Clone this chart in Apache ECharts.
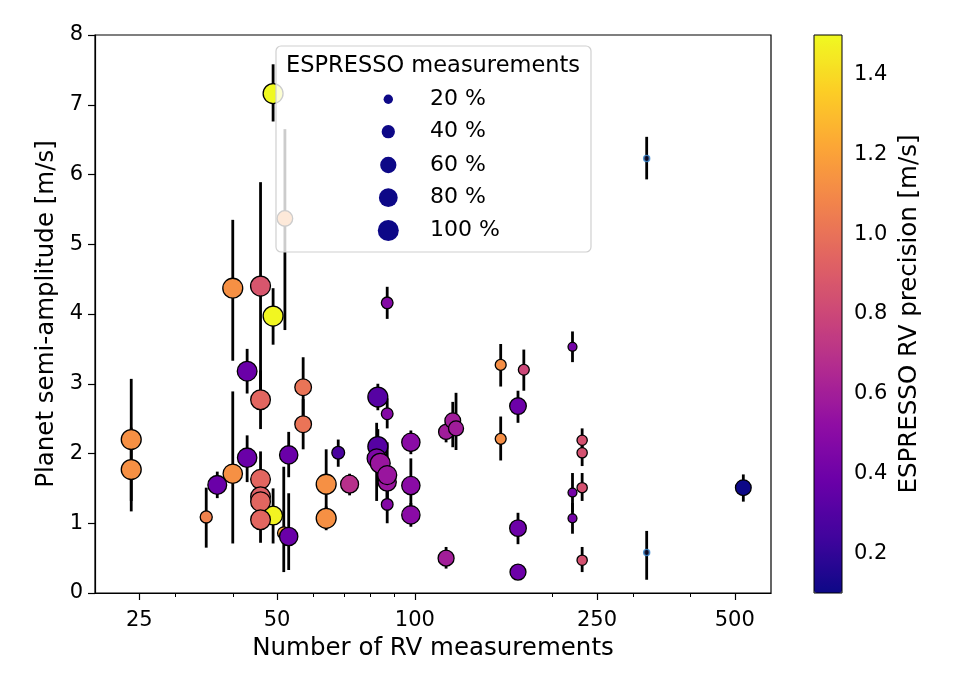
<!DOCTYPE html>
<html><head><meta charset="utf-8">
<script src="https://cdn.jsdelivr.net/npm/echarts@6/dist/echarts.min.js"></script>
<style>html,body{margin:0;padding:0;background:#fff}#c{width:955px;height:679px}</style>
</head><body><div id="c"></div>
<script>
// ---- data ----
const nObs    = [24, 24, 35, 37, 40, 40, 43, 43, 49, 46, 46, 46, 46, 46, 46, 49, 49, 52, 51.7, 53, 53, 57, 57, 64, 64, 68, 72, 83, 87, 87, 83, 82.5, 84, 87, 87, 87, 98, 98, 98, 117, 121, 123, 117, 154, 154, 168, 168, 168, 173, 221, 221, 221, 232, 232, 232, 232, 321, 321, 522];
const semiAmp = [2.20, 1.77, 1.09, 1.55, 4.37, 1.71, 3.18, 1.94, 1.11, 4.40, 2.77, 1.63, 1.38, 1.31, 1.05, 7.16, 3.97, 5.37, 0.86, 0.81, 1.98, 2.95, 2.42, 1.56, 1.07, 2.01, 1.56, 2.81, 4.16, 2.57, 2.10, 1.93, 1.86, 1.59, 1.69, 1.27, 2.16, 1.54, 1.12, 2.31, 2.47, 2.36, 0.50, 3.27, 2.21, 2.68, 0.93, 0.30, 3.20, 3.53, 1.44, 1.07, 2.19, 2.01, 1.51, 0.47, 6.23, 0.58, 1.51];
const errLow  = [1.32, 1.17, 0.65, 1.36, 3.33, 0.71, 2.86, 1.59, 0.71, 2.91, 2.35, 1.23, 1.10, 1.00, 0.72, 6.76, 3.56, 3.77, 0.30, 0.33, 1.66, 2.52, 2.06, 1.06, 0.90, 1.81, 1.40, 2.62, 3.93, 2.36, 1.85, 1.32, 1.60, 1.35, 1.22, 1.00, 1.99, 1.15, 0.95, 2.16, 2.09, 2.05, 0.35, 2.96, 1.90, 2.44, 0.70, 0.22, 2.90, 3.31, 1.16, 0.85, 2.02, 1.82, 1.32, 0.30, 5.93, 0.19, 1.31];
const errHigh = [3.07, 2.37, 1.51, 1.74, 5.35, 2.89, 3.50, 2.26, 1.50, 5.89, 3.19, 2.03, 1.66, 1.62, 1.38, 7.58, 4.37, 6.65, 1.81, 1.43, 2.31, 3.38, 2.78, 2.06, 1.24, 2.20, 1.71, 3.00, 4.39, 2.79, 2.35, 2.44, 2.10, 1.83, 2.16, 1.54, 2.33, 1.93, 1.29, 2.46, 2.74, 2.87, 0.66, 3.57, 2.53, 2.90, 1.15, 0.38, 3.49, 3.75, 1.72, 1.29, 2.36, 2.19, 1.72, 0.66, 6.54, 0.89, 1.70];
const rvPrec  = [1.13, 1.13, 1.07, 0.38, 1.13, 1.13, 0.38, 0.38, 1.48, 0.87, 0.95, 0.95, 0.92, 0.95, 0.95, 1.50, 1.49, 1.13, 1.20, 0.38, 0.38, 1.01, 1.01, 1.13, 1.13, 0.27, 0.69, 0.31, 0.48, 0.48, 0.31, 0.45, 0.56, 0.56, 0.56, 0.48, 0.50, 0.50, 0.50, 0.59, 0.59, 0.59, 0.60, 1.12, 1.12, 0.39, 0.39, 0.39, 0.80, 0.42, 0.42, 0.42, 0.85, 0.85, 0.85, 0.85, 0.10, 0.10, 0.10];
const espPct  = [90, 90, 33, 80, 90, 85, 88, 85, 80, 90, 88, 88, 88, 88, 88, 90, 90, 55, 35, 76, 76, 63, 63, 90, 90, 37, 73, 90, 31, 31, 90, 82, 90, 75, 82, 31, 76, 76, 76, 51, 56, 51, 58, 27, 27, 63, 63, 58, 27, 18, 18, 18, 24, 24, 24, 24, 5, 5, 56];
const xMajorTicks = [25, 50, 100, 250, 500];
const xMinorTicks = [30, 40, 60, 70, 80, 90, 200, 300, 400];
const cbTicks = [0.2, 0.4, 0.6, 0.8, 1.0, 1.2, 1.4];
const legendPct = [20, 40, 60, 80, 100];
const legendNames = ['20 %', '40 %', '60 %', '80 %', '100 %'];
const plasma = ['#0d0887','#41049d','#6a00a8','#8f0da4','#b12a90','#cc4778','#e16462','#f2844b','#fca636','#fcce25','#f0f921'];

// ---- build ----
const FONT = 'DejaVu Sans';
const lg = v => Math.log10(v);
const sizeOf = p => 21 * Math.sqrt(p / 100);
const mainPts = [], tinyPts = [], bars = [];
nObs.forEach((n, i) => {
  const row = [lg(n), semiAmp[i], rvPrec[i], espPct[i]];
  (espPct[i] < 10 ? tinyPts : mainPts).push(row);
  bars.push([lg(n), errLow[i], errHigh[i]]);
});

const chart = echarts.init(document.getElementById('c'), null, {renderer: 'canvas'});
const L = 95, R = 771, T = 35, B = 593;
const xmin = lg(20), xmax = lg(600);
const tickFont = {fontFamily: FONT, fontSize: 21, color: '#000'};
const nameFont = {fontFamily: FONT, fontSize: 24.5, color: '#000'};

const legendRows = [98.3, 130.7, 164, 196.7, 230];
const legends = legendPct.map((p, k) => {
  const d = sizeOf(p);
  return {
    data: [legendNames[k]], left: 388.3 - d / 2, top: legendRows[k] - Math.max(d, 20) / 2,
    padding: 0, itemWidth: 73.4, itemHeight: d, icon: 'circle', selectedMode: false,
    z: 20, itemStyle: {color: '#0d0887', opacity: 1, borderWidth: 0},
    textStyle: {fontFamily: FONT, fontSize: 22, color: '#000'}
  };
});

const series = [
  {
    type: 'custom', xAxisIndex: 0, yAxisIndex: 0, data: bars, z: 2,
    encode: {x: 0, y: [1, 2]}, silent: true,
    renderItem: (params, api) => {
      const p1 = api.coord([api.value(0), api.value(1)]);
      const p2 = api.coord([api.value(0), api.value(2)]);
      return {type: 'line', shape: {x1: p1[0], y1: p1[1], x2: p2[0], y2: p2[1]},
              style: {stroke: '#000', lineWidth: 2.8}};
    }
  },
  {
    type: 'scatter', xAxisIndex: 0, yAxisIndex: 0, data: mainPts, z: 3,
    symbolSize: v => sizeOf(v[3]),
    itemStyle: {borderColor: '#000', borderWidth: 1.3, opacity: 1},
    emphasis: {disabled: true}
  },
  {
    type: 'scatter', xAxisIndex: 0, yAxisIndex: 0, data: tinyPts, z: 3,
    symbolSize: v => sizeOf(v[3]) + 1.5,
    itemStyle: {color: '#0a0a2a', borderColor: '#3d8fd6', borderWidth: 1.3},
    emphasis: {disabled: true}
  }
].concat(legendNames.map(nm => ({
  type: 'scatter', name: nm, data: [], itemStyle: {color: '#0d0887', borderWidth: 0, opacity: 1}
})));

chart.setOption({
  animation: false,
  backgroundColor: '#fff',
  textStyle: {fontFamily: FONT},
  grid: [
    {left: L, top: T, width: R - L, height: B - T, show: true, borderColor: '#000', borderWidth: 1.2, backgroundColor: 'rgba(0,0,0,0)', z: 5},
    {left: 814, top: T, width: 28, height: B - T, show: true, borderColor: '#000', borderWidth: 1, backgroundColor: 'rgba(0,0,0,0)', z: 10}
  ],
  xAxis: [
    {
      type: 'value', gridIndex: 0, min: xmin, max: xmax, position: 'bottom',
      axisLine: {show: true, onZero: false, lineStyle: {color: '#000', width: 1.2}},
      axisTick: {show: true, length: 7, inside: false, customValues: xMajorTicks.map(lg), lineStyle: {color: '#000', width: 1.2}},
      axisLabel: {show: true, margin: 17, customValues: xMajorTicks.map(lg), formatter: v => String(Math.round(Math.pow(10, v))), ...tickFont},
      splitLine: {show: false},
      name: 'Number of RV measurements', nameLocation: 'middle', nameGap: 43,
      nameTextStyle: nameFont
    },
    {
      type: 'value', gridIndex: 0, min: xmin, max: xmax, position: 'bottom',
      axisLine: {show: false},
      axisTick: {show: true, length: 4, customValues: xMinorTicks.map(lg), lineStyle: {color: '#000', width: 1}},
      axisLabel: {show: false}, splitLine: {show: false}
    },
    {type: 'value', gridIndex: 1, show: false, min: 0, max: 1}
  ],
  yAxis: [
    {
      type: 'value', gridIndex: 0, min: 0, max: 8, interval: 1,
      axisLine: {show: true, onZero: false, lineStyle: {color: '#000', width: 1.2}},
      axisTick: {show: true, length: 7, lineStyle: {color: '#000', width: 1.2}},
      axisLabel: {margin: 12, ...tickFont},
      splitLine: {show: false},
      name: 'Planet semi-amplitude [m/s]', nameLocation: 'middle', nameGap: 35,
      nameTextStyle: nameFont
    },
    {
      type: 'value', gridIndex: 1, min: 0.1, max: 1.5, position: 'right',
      axisLine: {show: false},
      axisTick: {show: true, length: 7, customValues: cbTicks, lineStyle: {color: '#000', width: 1.2}},
      axisLabel: {margin: 12, customValues: cbTicks, formatter: v => v.toFixed(1), ...tickFont},
      splitLine: {show: false},
      name: 'ESPRESSO RV precision [m/s]', nameLocation: 'middle', nameGap: 55,
      nameTextStyle: nameFont
    }
  ],
  visualMap: {
    type: 'continuous', min: 0.1, max: 1.5, dimension: 2, seriesIndex: 1,
    inRange: {color: plasma}, orient: 'vertical', left: 814, top: T,
    itemWidth: 28, itemHeight: B - T, padding: 0, calculable: false,
    hoverLink: false, realtime: false, text: null, showLabel: false
  },
  title: {
    text: 'ESPRESSO measurements', left: 286, top: 55, padding: 0, z: 20,
    textStyle: {fontFamily: FONT, fontSize: 22.5, fontWeight: 'normal', color: '#000'}
  },
  legend: legends,
  graphic: [{
    type: 'rect', z: 10, silent: true,
    shape: {x: 276, y: 46, width: 315, height: 206, r: 5},
    style: {fill: 'rgba(255,255,255,0.8)', stroke: '#d0d0d0', lineWidth: 1.2}
  }],
  series: series
});
</script></body></html>
